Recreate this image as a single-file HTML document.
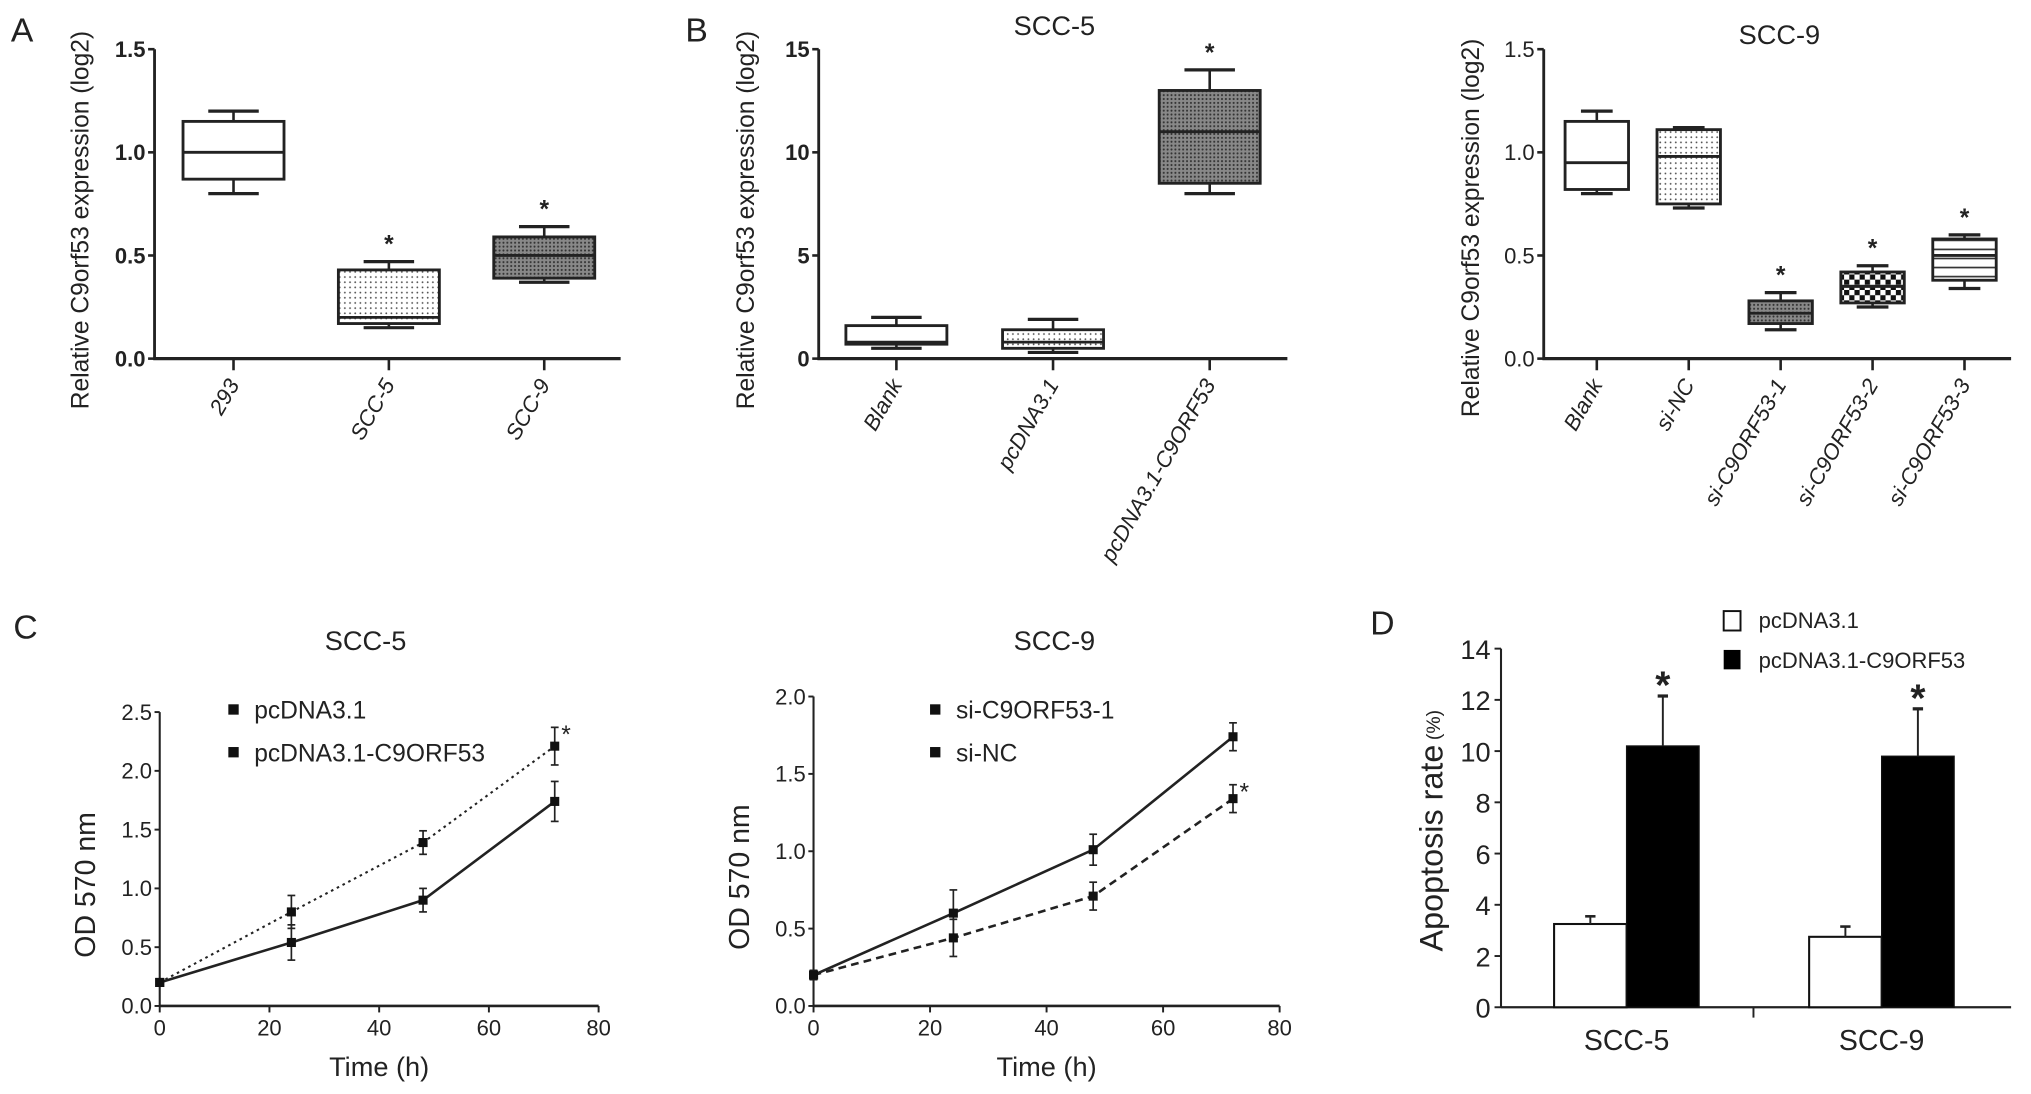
<!DOCTYPE html>
<html><head><meta charset="utf-8"><style>
html,body{margin:0;padding:0;background:#fff}
svg{display:block;font-family:"Liberation Sans",Arial,sans-serif}
</style></head><body>
<svg id="fig" width="2031" height="1094" viewBox="0 0 1568 845" xmlns="http://www.w3.org/2000/svg">
<defs>
<pattern id="dots" width="4" height="4" patternUnits="userSpaceOnUse"><rect width="4" height="4" fill="#fff"/><circle cx="2" cy="2" r="0.7" fill="#555"/></pattern>
<pattern id="hatch" width="3" height="3" patternUnits="userSpaceOnUse"><rect width="3" height="3" fill="#888"/><circle cx="1.5" cy="1.5" r="0.8" fill="#333"/></pattern>
<pattern id="check" width="8" height="8" patternUnits="userSpaceOnUse"><rect width="8" height="8" fill="#fff"/><rect width="4" height="4" fill="#111"/><rect x="4" y="4" width="4" height="4" fill="#111"/></pattern>
<pattern id="hlines" width="6" height="7" patternUnits="userSpaceOnUse"><rect width="6" height="7" fill="#fff"/><rect y="3" width="6" height="1.3" fill="#333"/></pattern>
</defs>
<g id="root"></g>
</svg>
<script>
// ---- Panel A data ----
const aCats = ["293","SCC-5","SCC-9"];
const aLow = [0.8,0.15,0.37], aQ1=[0.87,0.17,0.39], aMed=[1.0,0.2,0.5], aQ3=[1.15,0.43,0.59], aHigh=[1.2,0.47,0.64];
const aStar = [false,true,true];
const aTicks = [0,0.5,1.0,1.5];
// ---- Panel B SCC-5 ----
const b5Cats = ["Blank","pcDNA3.1","pcDNA3.1-C9ORF53"];
const b5Low=[0.5,0.3,8], b5Q1=[0.7,0.5,8.5], b5Med=[0.8,0.8,11], b5Q3=[1.6,1.4,13], b5High=[2.0,1.9,14];
const b5Star=[false,false,true];
const b5Ticks=[0,5,10,15];
// ---- Panel B SCC-9 ----
const b9Cats=["Blank","si-NC","si-C9ORF53-1","si-C9ORF53-2","si-C9ORF53-3"];
const b9Low=[0.8,0.73,0.14,0.25,0.34], b9Q1=[0.82,0.75,0.17,0.27,0.38], b9Med=[0.95,0.98,0.22,0.35,0.5], b9Q3=[1.15,1.11,0.28,0.42,0.58], b9High=[1.2,1.12,0.32,0.45,0.6];
const b9Star=[false,false,true,true,true];
const b9Ticks=[0,0.5,1.0,1.5];
// ---- Panel C ----
const cTimes=[0,24,48,72];
const c5Ctrl=[0.2,0.54,0.9,1.74], c5CtrlErr=[0.03,0.15,0.1,0.17];
const c5Over=[0.2,0.8,1.39,2.21], c5OverErr=[0.03,0.14,0.1,0.16];
const c9Ctrl=[0.2,0.6,1.01,1.74], c9CtrlErr=[0.03,0.15,0.1,0.09];
const c9Si=[0.2,0.44,0.71,1.34], c9SiErr=[0.03,0.12,0.09,0.09];
const cXTicks=[0,20,40,60,80];
const c5YTicks=[0,0.5,1.0,1.5,2.0,2.5];
const c9YTicks=[0,0.5,1.0,1.5,2.0];
// ---- Panel D ----
const dCats=["SCC-5","SCC-9"];
const dCtrl=[3.25,2.75], dCtrlErr=[0.3,0.4];
const dOver=[10.2,9.8], dOverErr=[1.95,1.85];
const dTicks=[0,2,4,6,8,10,12,14];

const NS="http://www.w3.org/2000/svg";
const root=document.getElementById('root');
function el(tag,attrs,parent,text){const e=document.createElementNS(NS,tag);for(const k in attrs)e.setAttribute(k,attrs[k]);if(text!==undefined)e.textContent=text;(parent||root).appendChild(e);return e;}
function lin(d0,d1,r0,r1){return v=>r0+(v-d0)/(d1-d0)*(r1-r0);}

function txt(x,y,s,size,opts,name){
  const t=el('text',Object.assign({x:x,y:y,'font-size':size,fill:'#222'},opts||{}),root,s);
  
  
  return t;
}
function line(x1,y1,x2,y2,w,extra,name){
  const l=el('line',Object.assign({x1:x1,y1:y1,x2:x2,y2:y2,stroke:'#222','stroke-width':w},extra||{}));
  
  
  return l;
}

function boxPanel(cfg){
  const y=lin(0,cfg.ymax,cfg.y0,cfg.ytop);
  line(cfg.ax,cfg.ytop,cfg.ax,cfg.y0+1,2.2,{},'y-axis');
  line(cfg.ax-1,cfg.y0,cfg.xend,cfg.y0,2.6,{},'x-axis');
  cfg.ticks.forEach(v=>{
    line(cfg.ax-5,y(v),cfg.ax,y(v),2,{},'y-tick');
    txt(cfg.ax-7,y(v)+6,cfg.fmt(v),cfg.tickSize,{'text-anchor':'end','font-weight':cfg.bold?'bold':'normal'},'y-tick-label');
  });
  cfg.cats.forEach((c,i)=>{
    const cx=cfg.x0+i*cfg.step, hw=cfg.bw/2, cw=hw/2;
    line(cx,cfg.y0,cx,cfg.y0+9,2,{},'x-tick');
    txt(cx+5,cfg.y0+20,c,cfg.catSize,{'text-anchor':'end','font-style':'italic',transform:`rotate(-60 ${cx+5} ${cfg.y0+20})`},'x-tick-label');
    line(cx,y(cfg.hi[i]),cx,y(cfg.q3[i]),2,{},'whisker');
    line(cx,y(cfg.lo[i]),cx,y(cfg.q1[i]),2,{},'whisker');
    line(cx-cw,y(cfg.hi[i]),cx+cw,y(cfg.hi[i]),2.5,{},'whisker-cap');
    line(cx-cw,y(cfg.lo[i]),cx+cw,y(cfg.lo[i]),2.5,{},'whisker-cap');
    const r=el('rect',{x:cx-hw,y:y(cfg.q3[i]),width:cfg.bw,height:y(cfg.q1[i])-y(cfg.q3[i]),fill:cfg.fills[i],stroke:'#222','stroke-width':2.2});
    
    
    line(cx-hw,y(cfg.med[i]),cx+hw,y(cfg.med[i]),2.2,{},'median');
    if(cfg.star[i]) txt(cx,y(cfg.hi[i])-7,'*',19,{'text-anchor':'middle','font-weight':'bold'},'significance-star');
  });
  txt(0,0,'Relative C9orf53 expression (log2)',19,{'text-anchor':'middle',transform:`translate(${cfg.labX},${cfg.labY}) rotate(-90)`},'y-axis-title');
}

// Panel A
txt(8,32,'A',26,{},'panel-label-a');
boxPanel({ax:119,ytop:38,y0:277,xend:479,ymax:1.5,ticks:aTicks,fmt:v=>v.toFixed(1),tickSize:17,bold:true,
  cats:aCats,x0:180,step:120,bw:78,lo:aLow,q1:aQ1,med:aMed,q3:aQ3,hi:aHigh,star:aStar,fills:['#fff','url(#dots)','url(#hatch)'],catSize:17,labX:68,labY:170});
// Panel B SCC-5
txt(529,32,'B',26,{},'panel-label-b');
txt(814,27,'SCC-5',21,{'text-anchor':'middle'},'chart-title-scc5');
boxPanel({ax:632,ytop:38,y0:277,xend:994,ymax:15,ticks:b5Ticks,fmt:v=>String(v),tickSize:17,bold:true,
  cats:b5Cats,x0:692,step:121,bw:78,lo:b5Low,q1:b5Q1,med:b5Med,q3:b5Q3,hi:b5High,star:b5Star,fills:['#fff','url(#dots)','url(#hatch)'],catSize:17,labX:582,labY:170});
// Panel B SCC-9
txt(1374,34,'SCC-9',21,{'text-anchor':'middle'},'chart-title-scc9');
boxPanel({ax:1192,ytop:38,y0:277,xend:1553,ymax:1.5,ticks:b9Ticks,fmt:v=>v.toFixed(1),tickSize:17,bold:false,
  cats:b9Cats,x0:1233,step:71,bw:49,lo:b9Low,q1:b9Q1,med:b9Med,q3:b9Q3,hi:b9High,star:b9Star,fills:['#fff','url(#dots)','url(#hatch)','url(#check)','url(#hlines)'],catSize:17,labX:1142,labY:176});

// Panel C
function linePanel(cfg){
  const x=lin(0,80,cfg.ax,cfg.xend), y=lin(0,cfg.ymax,cfg.y0,cfg.ytop);
  line(cfg.ax,cfg.ytop,cfg.ax,cfg.y0,1.6,{},'y-axis');
  line(cfg.ax,cfg.y0,cfg.xend,cfg.y0,2,{},'x-axis');
  cfg.yticks.forEach(v=>{line(cfg.ax-4,y(v),cfg.ax,y(v),1.5,{},'y-tick');txt(cfg.ax-6,y(v)+6,v.toFixed(1),17,{'text-anchor':'end'},'y-tick-label');});
  cXTicks.forEach(v=>{line(x(v),cfg.y0,x(v),cfg.y0+5,1.5,{},'x-tick');txt(x(v),cfg.y0+23,String(v),17,{'text-anchor':'middle'},'x-tick-label');});
  txt((cfg.ax+cfg.xend)/2,cfg.y0+54,'Time (h)',21,{'text-anchor':'middle'},'x-axis-title');
  txt(0,0,'OD  570 nm',22,{'text-anchor':'middle',transform:`translate(${cfg.ax-50},${(cfg.y0+cfg.ytop)/2+20}) rotate(-90)`},'y-axis-title');
  cfg.series.forEach(s=>{
    const pts=cTimes.map((t,i)=>x(t)+','+y(s.v[i])).join(' ');
    const p=el('polyline',{points:pts,fill:'none',stroke:'#222','stroke-width':s.w,'stroke-dasharray':s.dash});
    
    
    cTimes.forEach((t,i)=>{
      const cx=x(t),hi=y(s.v[i]+s.e[i]),lo=y(s.v[i]-s.e[i]);
      line(cx,hi,cx,lo,1.3,{},'error-bar');
      line(cx-3,hi,cx+3,hi,1.3,{},'error-cap');line(cx-3,lo,cx+3,lo,1.3,{},'error-cap');
      const m=el('rect',{x:cx-3.5,y:y(s.v[i])-3.5,width:7,height:7,fill:'#111'});
      
      
    });
    if(s.star) txt(x(72)+5,y(s.v[3]+s.e[3])+12,'*',19,{},'significance-star');
  });
  cfg.legend.forEach((l,i)=>{
    const ly=cfg.ly+i*33;
    const mk=el('rect',{x:cfg.lx-4,y:ly-4,width:8,height:8,fill:'#111'});
    
    
    txt(cfg.lx+16,ly+7,l,19,{},'legend-entry');
  });
}
txt(10,493,'C',26,{},'panel-label-c');
txt(282,502,'SCC-5',21,{'text-anchor':'middle'},'chart-title-c-scc5');
linePanel({ax:123,xend:462,y0:777,ytop:550,ymax:2.5,yticks:c5YTicks,
  series:[{name:'pcdna3-1',v:c5Ctrl,e:c5CtrlErr,w:2,dash:'none',star:false},{name:'pcdna3-1-c9orf53',v:c5Over,e:c5OverErr,w:1.6,dash:'2,3',star:true}],
  legend:['pcDNA3.1','pcDNA3.1-C9ORF53'],lx:180,ly:548});
txt(814,502,'SCC-9',21,{'text-anchor':'middle'},'chart-title-c-scc9');
linePanel({ax:628,xend:988,y0:777,ytop:538,ymax:2.0,yticks:c9YTicks,
  series:[{name:'si-nc',v:c9Ctrl,e:c9CtrlErr,w:2,dash:'none',star:false},{name:'si-c9orf53-1',v:c9Si,e:c9SiErr,w:2,dash:'6,4',star:true}],
  legend:['si-C9ORF53-1','si-NC'],lx:722,ly:548});

// Panel D
(function(){
  const ax=1159,xend=1553,y0=778,ytop=501,y=lin(0,14,y0,ytop);
  txt(1058,490,'D',26,{},'panel-label-d');
  line(ax,ytop,ax,y0,1.6,{},'y-axis');
  line(ax,y0,xend,y0,1.8,{},'x-axis');
  dTicks.forEach(v=>{line(ax-5,y(v),ax,y(v),1.5,{},'y-tick');txt(ax-8,y(v)+8,String(v),21,{'text-anchor':'end'},'y-tick-label');});
  line(1354,y0,1354,y0+8,1.5,{},'x-tick');
  const cx=[1256,1453], bw=56;
  dCats.forEach((c,i)=>{
    txt(cx[i],y0+33,c,22,{'text-anchor':'middle'},'x-tick-label');
    const r1=el('rect',{x:cx[i]-bw,y:y(dCtrl[i]),width:bw,height:y0-y(dCtrl[i]),fill:'#fff',stroke:'#111','stroke-width':1.6});
    
    
    line(cx[i]-bw/2,y(dCtrl[i]),cx[i]-bw/2,y(dCtrl[i]+dCtrlErr[i]),1.5,{},'error-bar');
    line(cx[i]-bw/2-4,y(dCtrl[i]+dCtrlErr[i]),cx[i]-bw/2+4,y(dCtrl[i]+dCtrlErr[i]),2,{},'error-cap');
    const r2=el('rect',{x:cx[i],y:y(dOver[i]),width:bw,height:y0-y(dOver[i]),fill:'#000',stroke:'#111','stroke-width':1});
    
    
    line(cx[i]+bw/2,y(dOver[i]),cx[i]+bw/2,y(dOver[i]+dOverErr[i]),1.5,{},'error-bar');
    line(cx[i]+bw/2-4,y(dOver[i]+dOverErr[i]),cx[i]+bw/2+4,y(dOver[i]+dOverErr[i]),2.5,{},'error-cap');
    txt(cx[i]+bw/2,y(dOver[i]+dOverErr[i])+2,'*',30,{'text-anchor':'middle','font-weight':'bold'},'significance-star');
  });
  txt(0,0,'Apoptosis rate',25,{'text-anchor':'middle',transform:'translate(1114,655) rotate(-90)'},'y-axis-title');
  txt(0,0,'(%)',15,{'text-anchor':'middle',transform:'translate(1112,560) rotate(-90)'},'y-axis-unit');
  const l1=el('rect',{x:1331,y:472,width:13,height:15,fill:'#fff',stroke:'#111','stroke-width':1.5});
  
  
  txt(1358,485,'pcDNA3.1',17,{},'legend-entry');
  const l2=el('rect',{x:1331,y:502,width:13,height:15,fill:'#000'});
  
  
  txt(1358,516,'pcDNA3.1-C9ORF53',17,{},'legend-entry');
})();
</script>
</body></html>
